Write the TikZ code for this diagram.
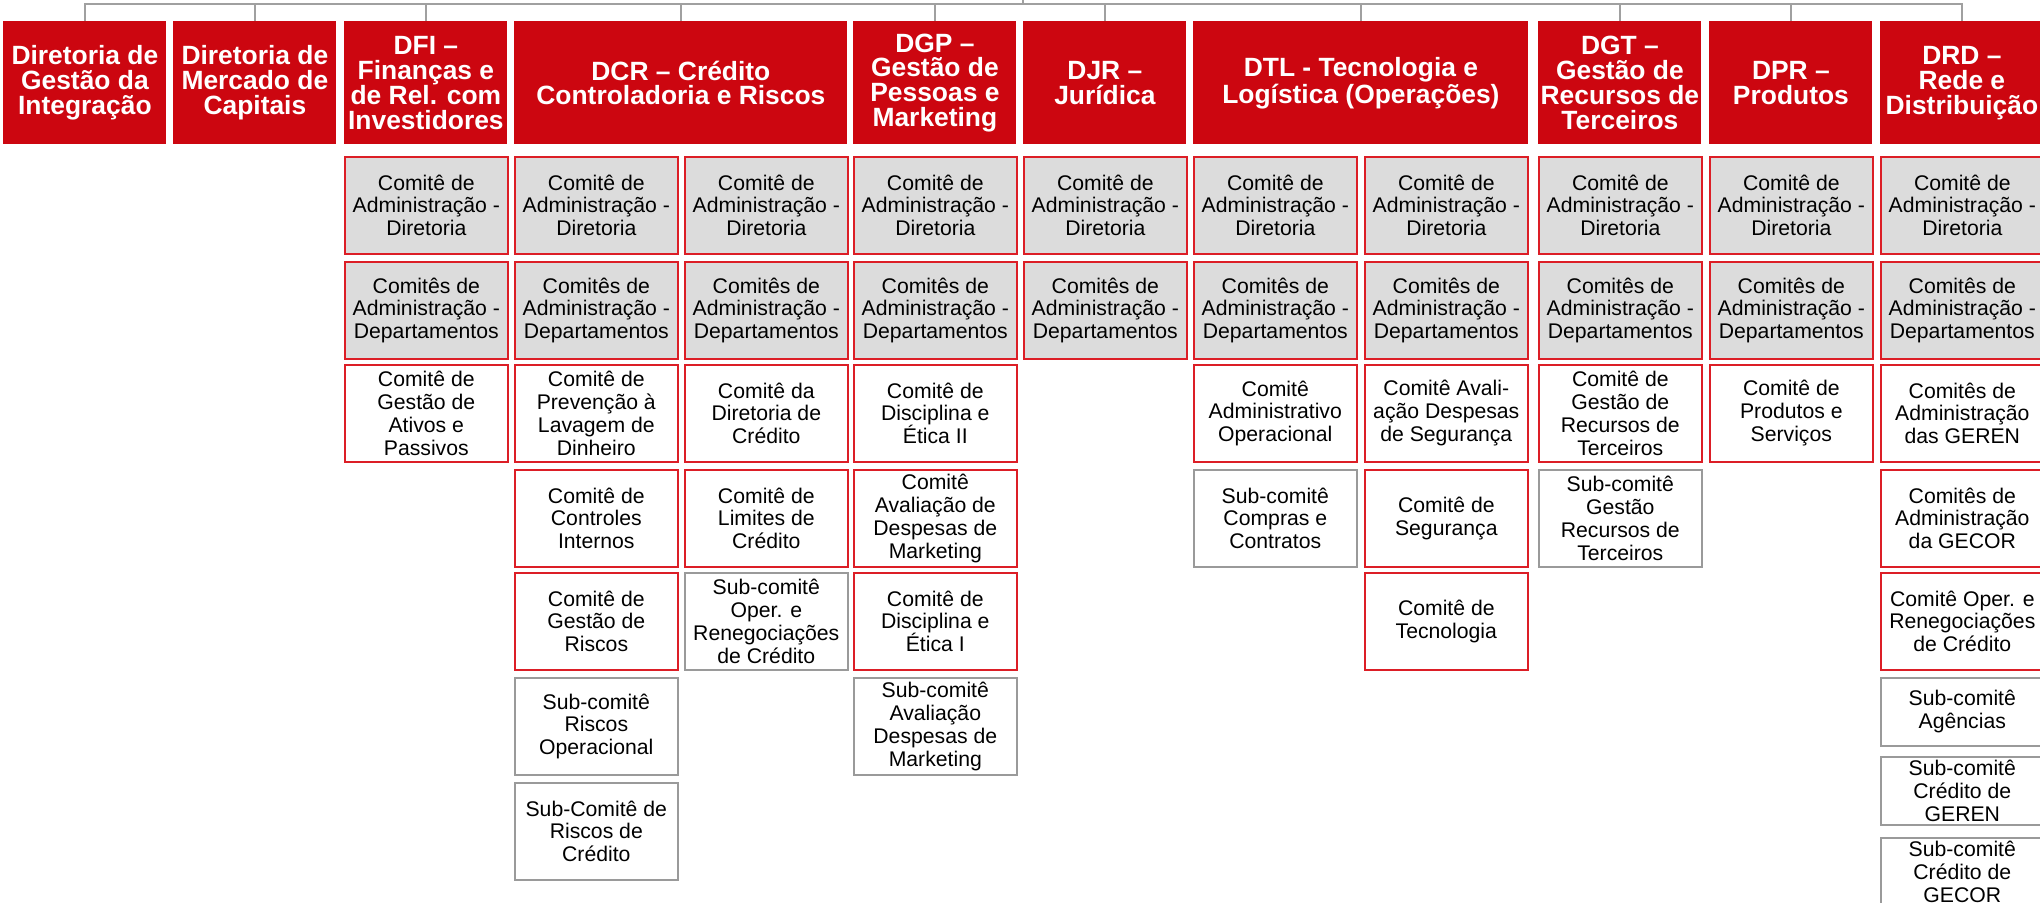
\documentclass[tikz,border=0pt]{standalone}
\usepackage{fontspec}
\setmainfont{Liberation Sans}
\definecolor{hred}{HTML}{CC0610}
\definecolor{bred}{HTML}{DC1E26}
\definecolor{cgray}{HTML}{DCDCDC}
\definecolor{bgray}{HTML}{9A9A9A}
\definecolor{lgray}{HTML}{A0A0A0}
\tikzset{
 base/.style={anchor=north west, inner sep=0pt, align=center, minimum width=81.5pt, minimum height=48.5pt, font=\fontsize{10.6pt}{11.4pt}\selectfont, line width=0.8pt},
 hdr/.style={anchor=north west, inner sep=0pt, align=center, minimum width=81.5pt, minimum height=61.5pt, fill=hred, text=white, font=\bfseries\fontsize{13.2pt}{12.4pt}\selectfont},
 cg/.style={base, fill=cgray, draw=bred},
 cw/.style={base, fill=white, draw=bred},
 sw/.style={base, fill=white, draw=bgray},
 smallbox/.style={minimum height=34pt},
 conn/.style={draw=lgray, line width=1pt},
}
\begin{document}
\begin{tikzpicture}[x=0.5pt, y=-0.5pt]
\useasboundingbox (0,0) rectangle (2040,902);
% headers
\node[hdr] (h0) at (3,21) {Diretoria de\\Gestão da\\Integração};
\node[hdr] (h1) at (173,21) {Diretoria de\\Mercado de\\Capitais};
\node[hdr] (h2) at (344,21) {DFI –\\Finanças e\\de Rel. com\\Investidores};
\node[hdr, minimum width=166.5pt] (h3) at (514,21) {DCR – Crédito\\Controladoria e Riscos};
\node[hdr] (h5) at (853,21) {DGP –\\Gestão de\\Pessoas e\\Marketing};
\node[hdr] (h6) at (1023,21) {DJR –\\Jurídica};
\node[hdr, minimum width=167.5pt] (h7) at (1193,21) {DTL - Tecnologia e\\Logística (Operações)};
\node[hdr] (h9) at (1538,21) {DGT –\\Gestão de\\Recursos de\\Terceiros};
\node[hdr] (h10) at (1709,21) {DPR –\\Produtos};
\node[hdr] (h11) at (1880,21) {DRD –\\Rede e\\Distribuição};
% connectors
\coordinate (root) at (1023,0);
\coordinate (bus) at (1023,4);
\draw[conn] (root) -- (bus);
\foreach \h in {h0,h1,h2,h3,h5,h6,h7,h9,h10,h11} \draw[conn] (bus) -| (\h.north);
% rows 1 and 2
\foreach \x/\n in {344/2,514/3,684/4,853/5,1023/6,1193/7,1364/8,1538/9,1709/10,1880/11}{
  \node[cg] (a\n) at (\x,156) {Comitê de\\Administração -\\Diretoria};
  \node[cg] (b\n) at (\x,261) {Comitês de\\Administração -\\Departamentos};
}
% DFI
\node[cw] (c2) at (344,364) {Comitê de\\Gestão de\\Ativos e\\Passivos};
% DCR a
\node[cw] (c3) at (514,364) {Comitê de\\Prevenção à\\Lavagem de\\Dinheiro};
\node[cw] (d3) at (514,469) {Comitê de\\Controles\\Internos};
\node[cw] (e3) at (514,572) {Comitê de\\Gestão de\\Riscos};
\node[sw] (f3) at (514,677) {Sub-comitê\\Riscos\\Operacional};
\node[sw] (g3) at (514,782) {Sub-Comitê de\\Riscos de\\Crédito};
% DCR b
\node[cw] (c4) at (684,364) {Comitê da\\Diretoria de\\Crédito};
\node[cw] (d4) at (684,469) {Comitê de\\Limites de\\Crédito};
\node[sw] (e4) at (684,572) {Sub-comitê\\Oper. e\\Renegociações\\de Crédito};
% DGP
\node[cw] (c5) at (853,364) {Comitê de\\Disciplina e\\Ética II};
\node[cw] (d5) at (853,469) {Comitê\\Avaliação de\\Despesas de\\Marketing};
\node[cw] (e5) at (853,572) {Comitê de\\Disciplina e\\Ética I};
\node[sw] (f5) at (853,677) {Sub-comitê\\Avaliação\\Despesas de\\Marketing};
% DTL a
\node[cw] (c7) at (1193,364) {Comitê\\Administrativo\\Operacional};
\node[sw] (d7) at (1193,469) {Sub-comitê\\Compras e\\Contratos};
% DTL b
\node[cw] (c8) at (1364,364) {Comitê Avali-\\ação Despesas\\de Segurança};
\node[cw] (d8) at (1364,469) {Comitê de\\Segurança};
\node[cw] (e8) at (1364,572) {Comitê de\\Tecnologia};
% DGT
\node[cw] (c9) at (1538,364) {Comitê de\\Gestão de\\Recursos de\\Terceiros};
\node[sw] (d9) at (1538,469) {Sub-comitê\\Gestão\\Recursos de\\Terceiros};
% DPR
\node[cw] (c10) at (1709,364) {Comitê de\\Produtos e\\Serviços};
% DRD
\node[cw] (c11) at (1880,364) {Comitês de\\Administração\\das GEREN};
\node[cw] (d11) at (1880,469) {Comitês de\\Administração\\da GECOR};
\node[cw] (e11) at (1880,572) {Comitê Oper. e\\Renegociações\\de Crédito};
\node[sw, smallbox] (f11) at (1880,677) {Sub-comitê\\Agências};
\node[sw, smallbox] (g11) at (1880,756) {Sub-comitê\\Crédito de\\GEREN};
\node[sw, smallbox] (h11b) at (1880,837) {Sub-comitê\\Crédito de\\GECOR};
\end{tikzpicture}
\end{document}
